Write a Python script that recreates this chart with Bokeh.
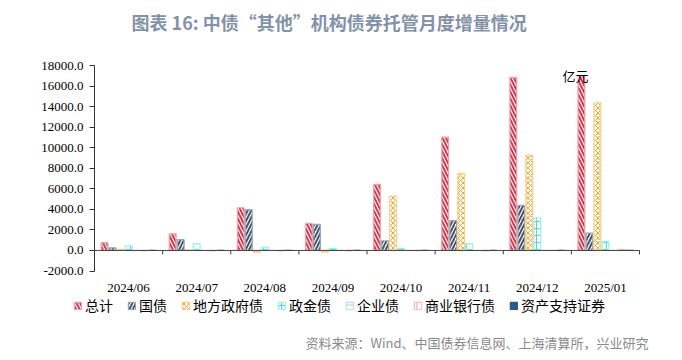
import numpy as np
from bokeh.plotting import figure
from bokeh.models import (Range1d, FixedTicker, Legend, LegendItem, Label, ColumnDataSource)
from bokeh.core.properties import value
from bokeh.embed import file_html
from bokeh.resources import INLINE

months = ["2024/06", "2024/07", "2024/08", "2024/09", "2024/10", "2024/11", "2024/12", "2025/01"]
series_names = ["总计", "国债", "地方政府债", "政金债", "企业债", "商业银行债", "资产支持证券"]
total = [750, 1620, 4150, 2630, 6420, 11020, 16830, 16960]
govt = [260, 1040, 3960, 2530, 940, 2890, 4380, 1690]
local_gov = [100, 50, -150, -150, 5280, 7490, 9270, 14370]
policy_bank = [450, 650, 320, 200, 200, 650, 3180, 870]
corporate = [10, 10, 10, 0, 10, 10, 10, 0]
commercial_bank = [-30, -50, -30, -30, -20, -30, 0, 100]
abs_sec = [0, 0, 0, 0, 0, 0, 0, 0]
values = [total, govt, local_gov, policy_bank, corporate, commercial_bank, abs_sec]
y_ticks = list(range(-2000, 18001, 2000))
y_tick_labels = [f"{t:.1f}" for t in y_ticks]

title_text = "图表 16: 中债“其他”机构债券托管月度增量情况"
source_text = "资料来源：Wind、中国债券信息网、上海清算所，兴业研究"
unit_text = "亿元"

styles = [
    dict(hatch_pattern="\\", hatch_color="#d6374e", line_color="#e9a3ad", hatch_scale=7, hatch_weight=2),
    dict(hatch_pattern="/", hatch_color="#44546a", line_color="#9ba6b6", hatch_scale=7, hatch_weight=2),
    dict(hatch_pattern="x", hatch_color="#f5a32a", line_color="#fbd08c", hatch_scale=5, hatch_weight=1),
    dict(hatch_pattern="+", hatch_color="#45e0d2", line_color="#a3efe8", hatch_scale=7, hatch_weight=1),
    dict(hatch_pattern="-", hatch_color="#b4c7e7", line_color="#c9d7ee", hatch_scale=6, hatch_weight=1),
    dict(hatch_pattern="|", hatch_color="#f59aaa", line_color="#f8bcc6", hatch_scale=6, hatch_weight=1),
    dict(hatch_pattern=" ", hatch_color="#2e5c8a", line_color="#2e5c8a", hatch_scale=6, hatch_weight=1),
]

n = len(months)
upx = 20000 / 205.5          # data units per pixel (vertical)
cat_px = 545 / n             # pixels per category
left_px = 30                 # frame left edge on the page
axis_px = 94                 # y axis position on the page
p = figure(width=682, height=360, output_backend="svg", toolbar_location=None,
           x_range=Range1d(-(axis_px - left_px) / cat_px, n + 43 / cat_px),
           y_range=Range1d(-2000 - 89.5 * upx, 18000 + 65 * upx),
           min_border_left=left_px, min_border_right=0, min_border_top=0, min_border_bottom=0)
p.outline_line_color = None
p.grid.grid_line_color = None
p.background_fill_color = "white"
p.border_fill_color = "white"
p.xaxis.visible = False

centers = np.arange(n) + 0.5
step = 0.1175
items = []
for i, (name, vals, st) in enumerate(zip(series_names, values, styles)):
    xs = centers + (i - 3) * step
    src = ColumnDataSource(dict(x=xs, top=vals))
    fill = "#2e5c8a" if i == 6 else "white"
    r = p.vbar(x="x", top="top", bottom=0, width=0.1, source=src, fill_color=fill,
               line_width=1.3, **st)
    items.append(LegendItem(label=name, renderers=[r]))

# zero line and category boundary ticks
p.segment(x0=0, x1=n, y0=0, y1=0, line_color="#404040", line_width=1)
bounds = np.arange(n + 1)
p.segment(x0=bounds, x1=bounds, y0=0, y1=-4 * upx, line_color="#404040", line_width=1)

# category labels
p.text(x=centers, y=-37 * upx, text=months, text_align="center", text_baseline="middle",
       text_font=value("Liberation Serif"), text_font_size="13px", text_color="#000000")

# y axis line and ticks, fixed at x = 0
yax = p.yaxis[0]
yax.fixed_location = 0
yax.bounds = (-2000, 18000)
yax.ticker = FixedTicker(ticks=y_ticks)
yax.major_label_overrides = {t: "" for t in y_ticks}
yax.major_tick_in = 0
yax.major_tick_out = 5
yax.minor_tick_line_color = None
yax.axis_line_color = "#333333"
yax.major_tick_line_color = "#333333"
yax.major_label_standoff = 0

# y tick labels
p.text(x=-11 / cat_px, y=y_ticks, text=y_tick_labels, text_align="right", text_baseline="middle",
       text_font=value("Liberation Serif"), text_font_size="13px", text_color="#000000")

# title, unit and source
p.add_layout(Label(x=37 / cat_px, y=(250 - 22) * upx, text=title_text,
                   text_font="Noto Sans CJK SC", text_font_size="18px", text_font_style="bold",
                   text_color="#8392a9", text_baseline="middle"))
p.add_layout(Label(x=6.87, y=17000, text=unit_text, text_font="Noto Sans CJK SC",
                   text_font_size="13px", text_baseline="middle", text_color="#000000"))
p.add_layout(Label(x=(648 - axis_px) / cat_px, y=-(342 - 250) * upx, text=source_text,
                   text_font="Noto Sans CJK SC", text_font_size="13px", text_align="right",
                   text_baseline="middle", text_color="#8a8a8a"))

legend = Legend(items=items, orientation="horizontal", location=(73 - left_px, 45),
                glyph_width=9, glyph_height=9, label_standoff=3, spacing=14,
                padding=2, margin=0, border_line_color=None, background_fill_alpha=0,
                label_text_font="Noto Sans CJK SC", label_text_font_size="14px",
                label_text_color="#000000")
p.add_layout(legend)

open("out.html", "w").write(file_html(p, INLINE))
